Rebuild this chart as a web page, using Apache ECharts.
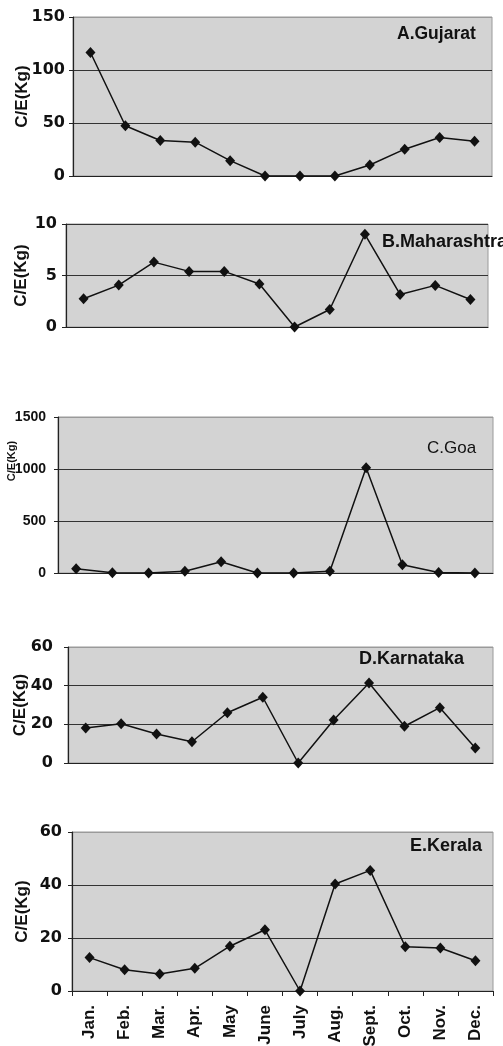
<!DOCTYPE html>
<html><head><meta charset="utf-8">
<script src="https://cdn.jsdelivr.net/npm/echarts@6/dist/echarts.min.js"></script>
<style>html,body{margin:0;padding:0;background:#fff}#c{width:503px;height:1046px}</style>
</head><body><div id="c"></div>
<script>
const months = ['Jan.','Feb.','Mar.','Apr.','May','June','July','Aug.','Sept.','Oct.','Nov.','Dec.'];
const gujarat = [116.5, 47.4, 33.5, 31.9, 14.5, 0, 0, 0, 10.4, 25.3, 36.3, 32.8];
const maharashtra = [2.74, 4.07, 6.3, 5.4, 5.4, 4.17, 0, 1.7, 9.0, 3.16, 4.04, 2.67];
const goa = [41, 2, 0, 16, 108, 0, 0, 16, 1012, 80, 5, 0];
const karnataka = [18.1, 20.3, 15, 11, 26, 34, 0, 22.2, 41.4, 19, 28.6, 7.8];
const kerala = [12.6, 8.05, 6.4, 8.55, 16.9, 23.1, 0, 40.4, 45.5, 16.7, 16.2, 11.4];
const yMax = [150, 10, 1500, 60, 60];
const yInterval = [50, 5, 500, 20, 20];
const titles = ['A.Gujarat', 'B.Maharashtra', 'C.Goa', 'D.Karnataka', 'E.Kerala'];
const yName = 'C/E(Kg)';

const FONT = 'Liberation Sans, Arial, sans-serif';
const NUMFONT = 'DejaVu Sans, Liberation Sans, sans-serif';
const grids = [
  {left: 73, top: 17, width: 419, height: 159},
  {left: 66, top: 224, width: 422, height: 103},
  {left: 58, top: 417, width: 435, height: 156},
  {left: 68, top: 647, width: 425, height: 116},
  {left: 72, top: 832, width: 421, height: 159}
];
const nameGaps = [42, 36, 41, 39, 41];
const labelMargins = [8, 9, 12, 15, 10];
const allData = [gujarat, maharashtra, goa, karnataka, kerala];
const titlePos = [
  {left: 397, top: 25, fw: 'bold', ls: 0, fs: 17.5},
  {left: 382, top: 233, fw: 'bold', ls: 2, fs: 18},
  {left: 427, top: 440, fw: 'normal', ls: 0, fs: 17},
  {left: 359, top: 650, fw: 'bold', ls: 0, fs: 18},
  {left: 410, top: 837, fw: 'bold', ls: 0, fs: 18}
];

const option = {
  animation: false,
  backgroundColor: '#fff',
  title: titles.map((t, i) => ({
    text: t, left: titlePos[i].left, top: titlePos[i].top, padding: 0,
    textStyle: {fontFamily: FONT, fontSize: titlePos[i].fs, fontWeight: titlePos[i].fw, color: '#111',
      letterSpacing: titlePos[i].ls}
  })),
  grid: grids.map(g => Object.assign({show: true, containLabel: false, outerBoundsMode: 'none',
    backgroundColor: '#d3d3d3', borderColor: '#9a9a9a', borderWidth: 1}, g)),
  xAxis: grids.map((g, i) => ({
    type: 'category', gridIndex: i, data: months, boundaryGap: true,
    axisLine: {show: true, lineStyle: {color: '#222', width: 1.2}},
    axisTick: {show: i === 4, length: 5, lineStyle: {color: '#222'}},
    axisLabel: {show: i === 4, rotate: 90, interval: 0, margin: 14, fontFamily: FONT, fontSize: 17, fontWeight: 'bold', color: '#111'},
    splitLine: {show: false}
  })),
  yAxis: grids.map((g, i) => ({
    type: 'value', gridIndex: i, min: 0, max: yMax[i], interval: yInterval[i],
    name: yName, nameLocation: 'middle', nameRotate: 90, nameGap: nameGaps[i], nameMoveOverlap: false,
    nameTextStyle: {fontFamily: FONT, fontSize: i === 2 ? 11 : 17, fontWeight: 'bold', color: '#111',
      padding: i === 2 ? [0, 0, 0, 68] : 0},
    axisLine: {show: true, lineStyle: {color: '#222', width: 1.2}},
    axisTick: {show: true, length: 4, lineStyle: {color: '#222'}},
    axisLabel: {margin: labelMargins[i], fontFamily: i === 2 ? FONT : NUMFONT, fontSize: i === 2 ? 14 : 16,
      fontWeight: 'bold', color: '#111', formatter: v => String(v)},
    splitLine: {show: true, lineStyle: {color: ['#333', '#333', '#333', '#9a9a9a'], width: 1}}
  })),
  series: allData.map((d, i) => ({
    type: 'line', xAxisIndex: i, yAxisIndex: i, data: d,
    symbol: 'diamond', symbolSize: [10, 11], showAllSymbol: true,
    lineStyle: {color: '#111', width: 1.5},
    itemStyle: {color: '#111'}
  }))
};
const chart = echarts.init(document.getElementById('c'), null, {renderer: 'canvas'});
chart.setOption(option);
</script></body></html>
